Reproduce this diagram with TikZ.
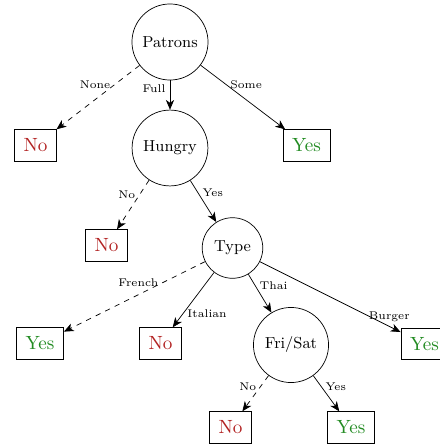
\documentclass[tikz,border=0pt]{standalone}
\usepackage{xcolor}
\usetikzlibrary{arrows.meta}
\definecolor{leafred}{RGB}{178,34,34}
\definecolor{leafgreen}{RGB}{34,139,34}
\tikzset{
  attr/.style={circle, draw, inner sep=4.5pt, font=\fontsize{9}{10}\selectfont}, % attribute test
  leaf/.style={rectangle, draw, inner sep=5.2pt, font=\fontsize{10.8}{12}\selectfont},
  leafNo/.style={leaf, text=leafred},                 % negative outcome
  leafYes/.style={leaf, text=leafgreen},              % positive outcome
  branch/.style={-{Stealth[length=5.5pt,width=4.6pt,inset=1.6pt]}},
  branchNeg/.style={branch, dashed},
  lbl/.style={font=\fontsize{6.3}{7}\selectfont, inner sep=2.3pt}
}

\begin{document}
\begin{tikzpicture}[x=0.565pt, y=0.565pt]
  \path (0,0) rectangle (440,-446);
  % tests
  \node[attr] (patrons) at (170,-42) {Patrons};
  \node[attr] (hungry) at (170,-148) {Hungry};
  \node[attr] (type) at (232.5,-248) {Type};
  \node[attr] (frisat) at (291,-345) {Fri/Sat};
  % outcomes
  \node[leafNo] (noNone) at (35.5,-145.5) {No};
  \node[leafYes] (yesSome) at (306.5,-145.5) {Yes};
  \node[leafNo] (noHungry) at (106.5,-245.5) {No};
  \node[leafYes] (yesFrench) at (40,-343.5) {Yes};
  \node[leafNo] (noItalian) at (160.5,-343.5) {No};
  \node[leafNo] (noFri) at (230.5,-427.5) {No};
  \node[leafYes] (yesSat) at (351,-427.5) {Yes};
  % branches
  \draw[branchNeg] (patrons) -- node[lbl, pos=0.3, left] {None} (noNone);
  \draw[branch] (patrons) -- node[lbl, pos=0.3, left] {Full} (hungry);
  \draw[branch] (patrons) -- node[lbl, pos=0.3, right] {Some} (yesSome);
  \draw[branchNeg] (hungry) -- node[lbl, pos=0.3, left] {No} (noHungry);
  \draw[branch] (hungry) -- node[lbl, pos=0.3, right] {Yes} (type);
  \draw[branchNeg] (type) -- node[lbl, pos=0.3, left] {French} (yesFrench);
  \draw[branch] (type) -- node[lbl, pos=0.75, right] {Italian} (noItalian);
  \draw[branch] (type) -- node[lbl, pos=0.3, right] {Thai} (frisat);
  \draw[branchNeg] (frisat) -- node[lbl, pos=0.3, left] {No} (noFri);
  \draw[branch] (frisat) -- node[lbl, pos=0.3, right] {Yes} (yesSat);
  % last outcome runs past the right edge
  \begin{scope}
    \clip (0,0) rectangle (440,-446);
    \node[leafYes] (yesBurger) at (424.5,-344) {Yes};
    \draw[branch] (type) -- node[lbl, pos=0.92, above] {Burger} (yesBurger);
  \end{scope}
\end{tikzpicture}
\end{document}
